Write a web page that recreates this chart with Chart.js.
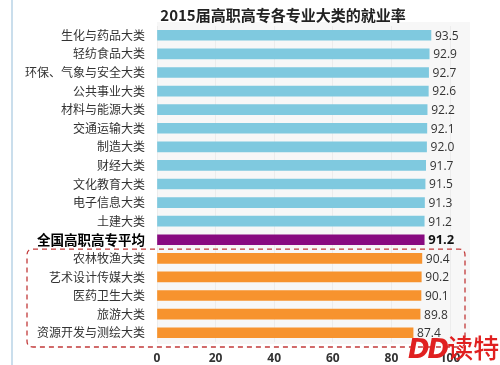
<!DOCTYPE html>
<html><head><meta charset="utf-8">
<script src="https://cdn.jsdelivr.net/npm/chart.js@4"></script>
<style>
html,body{margin:0;padding:0;background:#fff;}
#wrap{position:relative;width:500px;height:365px;}
#wm{position:absolute;left:408px;top:333px;color:#e02020;font-size:26px;line-height:28px;white-space:nowrap;}
#wm b{font-family:"DejaVu Sans";font-style:italic;font-weight:900;letter-spacing:-2px;}
#wm span{font-family:"Noto Sans CJK SC";font-weight:500;}
</style></head>
<body><div id="wrap"><canvas id="c" width="500" height="365"></canvas>
<div id="wm"><b>DD</b><span>读特</span></div></div>
<script>
const title = '2015届高职高专各专业大类的就业率';
const categories = ['生化与药品大类','轻纺食品大类','环保、气象与安全大类','公共事业大类','材料与能源大类','交通运输大类','制造大类','财经大类','文化教育大类','电子信息大类','土建大类','全国高职高专平均','农林牧渔大类','艺术设计传媒大类','医药卫生大类','旅游大类','资源开发与测绘大类'];
const values = [93.5,92.9,92.7,92.6,92.2,92.1,92.0,91.7,91.5,91.3,91.2,91.2,90.4,90.2,90.1,89.8,87.4];
const xTicks = [0,20,40,60,80,100];
const avgIndex = 11;
const colors = values.map((v,i)=> i<avgIndex ? '#7fc9df' : (i===avgIndex ? '#880a80' : '#f7932e'));
const CJK = '"Noto Sans CJK SC", sans-serif';

const deco = {
  id:'deco',
  beforeDraw(chart){
    const c=chart.ctx, a=chart.chartArea;
    c.save();
    c.fillStyle='#f7f7f7';
    c.fillRect(a.left,a.top-4,a.right-a.left+20,a.bottom-a.top+6);
    c.strokeStyle='#b9d3e6'; c.lineWidth=1.5;
    c.beginPath(); c.moveTo(12,0); c.lineTo(12,365); c.stroke();
    c.restore();
  },
  afterDraw(chart){
    const c=chart.ctx, y=chart.scales.y, x=chart.scales.x;
    c.save();
    c.font='bold 15px '+CJK; c.fillStyle='#222'; c.textAlign='center'; c.textBaseline='middle';
    c.fillText(title,283,15);
    const meta=chart.getDatasetMeta(0);
    meta.data.forEach((bar,i)=>{
      c.font=(i===avgIndex?'bold 13px ':'12px ')+'"Open Sans", sans-serif';
      c.fillStyle=i===avgIndex?'#111':'#333';
      c.textAlign='left';
      c.fillText(values[i].toFixed(1),bar.x+4,bar.y+1);
    });
    const step=y.getPixelForValue(1)-y.getPixelForValue(0);
    const top=(y.getPixelForValue(avgIndex)+y.getPixelForValue(avgIndex+1))/2;
    const bot=y.getPixelForValue(values.length-1)+step/2+5;
    const l=27,r=465,rad=6;
    c.strokeStyle='#c23a3a'; c.lineWidth=1.3; c.setLineDash([5,4]);
    c.beginPath();
    c.moveTo(l+rad,top); c.lineTo(r-rad,top); c.quadraticCurveTo(r,top,r,top+rad);
    c.lineTo(r,bot-rad); c.quadraticCurveTo(r,bot,r-rad,bot);
    c.lineTo(l+rad,bot); c.quadraticCurveTo(l,bot,l,bot-rad);
    c.lineTo(l,top+rad); c.quadraticCurveTo(l,top,l+rad,top);
    c.stroke();
    c.restore();
  }
};

new Chart(document.getElementById('c'),{
  type:'bar',
  data:{labels:categories,datasets:[{data:values,backgroundColor:colors,barThickness:10,borderWidth:0}]},
  options:{
    indexAxis:'y',responsive:false,animation:false,
    layout:{padding:{left:0,right:50,top:26,bottom:0}},
    plugins:{legend:{display:false},tooltip:{enabled:false}},
    scales:{
      x:{min:0,max:100,afterBuildTicks(s){s.ticks=xTicks.map(v=>({value:v}));},
        grid:{color:'#ececec',drawTicks:false},border:{display:false},
        ticks:{padding:9,color:'#333',font:{family:'"Open Sans", sans-serif',size:12,weight:'bold'}},
        afterFit(s){s.height=23;}},
      y:{grid:{display:false,drawTicks:false},border:{display:false},
        ticks:{padding:12,autoSkip:false,
          color:ctx=>ctx.index===avgIndex?'#000':'#333',
          font:ctx=>ctx.index===avgIndex?{family:CJK,size:13.5,weight:'bold'}:{family:CJK,size:12,weight:'normal'}},
        afterFit(s){s.width=157;}}
    }
  },
  plugins:[deco]
});
</script></body></html>
